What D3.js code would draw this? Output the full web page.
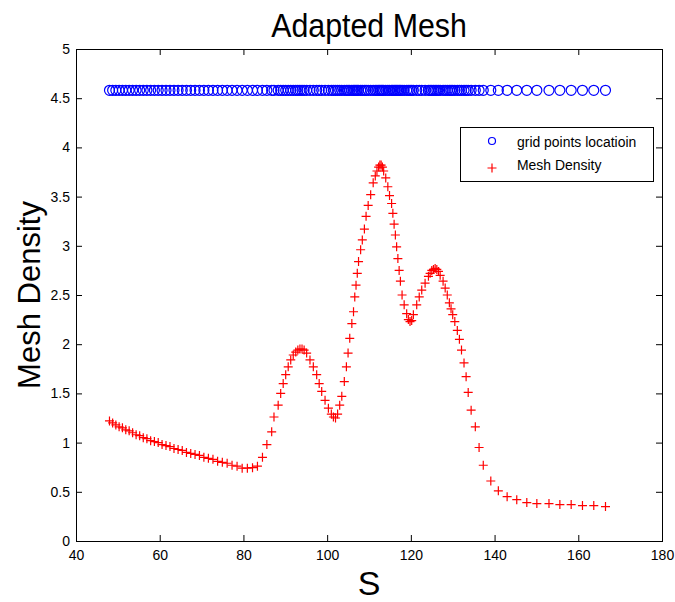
<!DOCTYPE html>
<html><head><meta charset="utf-8">
<script src="https://cdn.jsdelivr.net/npm/d3@7"></script>
<style>body{margin:0;background:#fff} text{font-family:"Liberation Sans",Arial,sans-serif}</style>
</head><body><svg id="c" width="675" height="602"></svg>
<script>
const sPoints = [48.00,48.75,49.52,50.30,51.09,51.89,52.70,53.52,54.36,55.21,56.07,56.94,57.83,58.73,59.64,60.56,61.50,62.45,63.41,64.39,65.38,66.39,67.41,68.44,69.49,70.55,71.63,72.72,73.83,74.96,76.11,77.28,78.48,79.70,80.94,82.17,83.35,84.55,85.60,86.75,87.30,88.30,88.90,89.50,90.10,90.70,91.30,91.90,92.50,93.00,93.50,94.00,94.50,95.10,95.90,96.70,97.50,98.10,98.70,99.50,100.30,101.00,101.50,102.00,102.50,103.00,103.50,104.10,104.60,105.00,105.40,105.90,106.30,106.60,106.90,107.20,107.50,108.00,108.40,108.90,109.30,109.80,110.40,111.00,111.50,111.90,112.30,112.60,112.90,113.20,113.50,114.00,114.50,114.90,115.40,115.70,116.00,116.30,116.60,116.90,117.20,117.50,117.90,118.40,119.00,119.40,119.80,120.20,120.60,121.40,122.00,122.60,123.40,124.20,124.60,125.00,125.40,125.80,126.20,126.60,127.00,127.70,128.20,128.70,129.20,129.60,130.00,130.50,131.10,131.60,132.10,132.70,133.20,133.70,134.40,135.40,136.30,137.30,139.10,140.90,143.00,145.30,147.70,150.10,153.00,155.60,158.30,161.00,163.70,166.50];
const meshDensity = [1.22,1.20,1.18,1.16,1.15,1.13,1.12,1.10,1.08,1.07,1.05,1.04,1.02,1.01,1.00,0.98,0.97,0.96,0.94,0.93,0.92,0.90,0.89,0.88,0.87,0.85,0.84,0.83,0.81,0.80,0.79,0.77,0.76,0.74,0.74,0.745,0.76,0.85,0.98,1.11,1.26,1.38,1.50,1.60,1.69,1.77,1.84,1.89,1.92,1.94,1.95,1.95,1.94,1.91,1.84,1.77,1.69,1.60,1.52,1.43,1.35,1.29,1.26,1.25,1.29,1.38,1.47,1.62,1.77,1.91,2.06,2.21,2.33,2.48,2.60,2.72,2.84,2.96,3.06,3.17,3.30,3.41,3.52,3.64,3.71,3.76,3.80,3.82,3.82,3.80,3.76,3.69,3.60,3.51,3.43,3.33,3.22,3.11,2.99,2.87,2.75,2.64,2.50,2.40,2.31,2.25,2.23,2.24,2.30,2.40,2.48,2.55,2.62,2.69,2.72,2.75,2.76,2.77,2.76,2.74,2.70,2.64,2.57,2.50,2.42,2.36,2.30,2.23,2.14,2.05,1.94,1.81,1.67,1.51,1.33,1.16,0.95,0.77,0.61,0.51,0.45,0.42,0.39,0.38,0.38,0.37,0.37,0.36,0.36,0.35];
const gridRowLevel = 4.58;
const xTickValues = [40,60,80,100,120,140,160,180];
const yTickValues = [0,0.5,1,1.5,2,2.5,3,3.5,4,4.5,5];
const titleText = "Adapted Mesh";
const xLabelText = "S";
const yLabelText = "Mesh Density";
const legendLabels = ["grid points locatioin","Mesh Density"];

const svg = d3.select("#c");
const m = {l:76, r:662, t:49, b:541};
const x = d3.scaleLinear().domain([40,180]).range([m.l,m.r]);
const y = d3.scaleLinear().domain([0,5]).range([m.b,m.t]);

function styleAxis(g){
  g.select(".domain").remove();
  g.selectAll("line").attr("stroke","#000");
  g.selectAll("text").attr("fill","#000").style("font-size","14px").style("font-family",'"Liberation Sans",Arial,sans-serif');
}
svg.append("g").attr("transform",`translate(0,${m.b})`)
  .call(d3.axisBottom(x).tickValues(xTickValues).tickSizeInner(-6).tickSizeOuter(0).tickPadding(9).tickFormat(d3.format("d")))
  .call(styleAxis);
svg.append("g").attr("transform",`translate(${m.l},0)`)
  .call(d3.axisLeft(y).tickValues(yTickValues).tickSizeInner(-6).tickSizeOuter(0).tickPadding(6).tickFormat(d=>String(d)))
  .call(styleAxis);
svg.append("g").attr("transform",`translate(0,${m.t})`)
  .call(d3.axisTop(x).tickValues(xTickValues).tickSizeInner(-6).tickSizeOuter(0).tickFormat(""))
  .call(styleAxis);
svg.append("g").attr("transform",`translate(${m.r},0)`)
  .call(d3.axisRight(y).tickValues(yTickValues).tickSizeInner(-6).tickSizeOuter(0).tickFormat(""))
  .call(styleAxis);
svg.append("rect").attr("x",m.l+0.5).attr("y",m.t+0.5).attr("width",m.r-m.l).attr("height",m.b-m.t)
  .attr("fill","none").attr("stroke","#000").attr("stroke-width",1);

const pts = sPoints.map((s,i)=>({s, d:meshDensity[i]}));
// grid point circles
svg.append("g").selectAll("circle").data(pts).join("circle")
  .attr("cx",p=>x(p.s)).attr("cy",y(gridRowLevel)).attr("r",5)
  .attr("fill","none").attr("stroke","#0000ff").attr("stroke-width",1.2);
// density pluses
const plus = "M-4.5,0H4.5M0,-4.5V4.5";
svg.append("g").selectAll("path").data(pts).join("path")
  .attr("transform",p=>`translate(${x(p.s)},${y(p.d)})`).attr("d",plus)
  .attr("fill","none").attr("stroke","#ff0000").attr("stroke-width",1.2);

// title & labels
svg.append("text").attr("transform",`translate(${(m.l+m.r)/2},37) scale(0.92,1)`).attr("text-anchor","middle")
  .style("font-size","33px").attr("fill","#000").text(titleText);
svg.append("text").attr("transform",`translate(${(m.l+m.r)/2},595)`).attr("text-anchor","middle")
  .style("font-size","34px").attr("fill","#000").text(xLabelText);
svg.append("text").attr("transform",`translate(40,${(m.t+m.b)/2}) rotate(-90)`).attr("text-anchor","middle")
  .style("font-size","31px").attr("fill","#000").text(yLabelText);

// legend
const lg = svg.append("g");
lg.append("rect").attr("x",460.5).attr("y",127.5).attr("width",193).attr("height",54)
  .attr("fill","#fff").attr("stroke","#000").attr("stroke-width",1);
lg.append("circle").attr("cx",492).attr("cy",141).attr("r",3.5).attr("fill","none").attr("stroke","#0000ff").attr("stroke-width",1.2);
lg.append("path").attr("transform","translate(492,168)").attr("d",plus).attr("fill","none").attr("stroke","#ff0000").attr("stroke-width",1.2);
legendLabels.forEach((t,i)=>{
  lg.append("text").attr("transform",`translate(517,${147+i*22.5}) scale(0.93,1)`)
    .style("font-size","15px").attr("fill","#000").text(t);
});
</script></body></html>
